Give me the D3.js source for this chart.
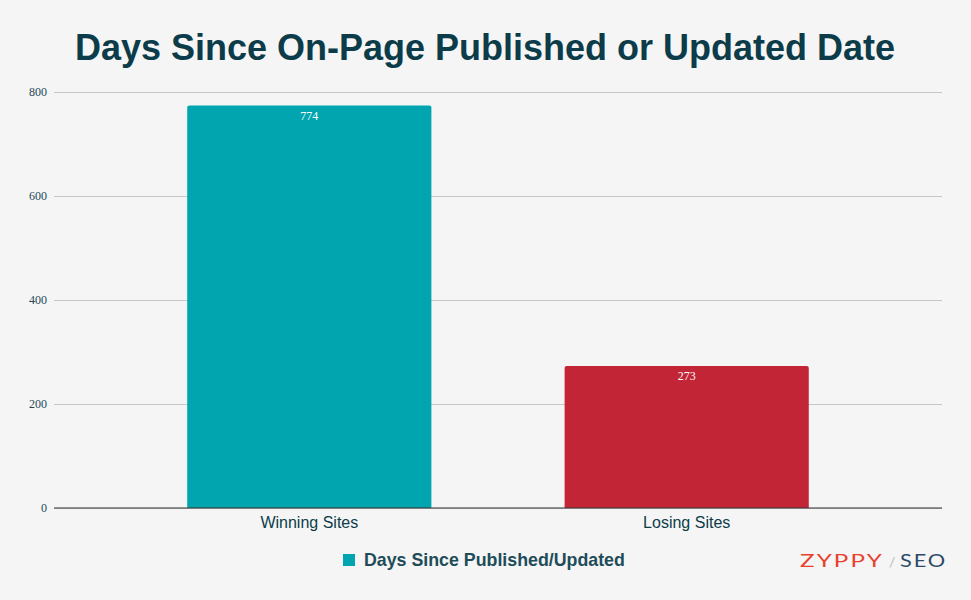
<!DOCTYPE html>
<html lang="en">
<head>
<meta charset="utf-8">
<title>Days Since On-Page Published or Updated Date</title>
<script src="https://cdn.jsdelivr.net/npm/d3@7"></script>
<style>
  html, body { margin: 0; padding: 0; background: #f5f5f5; }
  svg { display: block; }
</style>
</head>
<body>
<script>

// chart data
var categories = ["Winning Sites", "Losing Sites"];
var daysValues = [774, 273];
var barColors = ["#00a5af", "#c22535"];
var yTicks = [0, 200, 400, 600, 800];
var seriesName = "Days Since Published/Updated";

var W = 971, H = 600;
var plot = { left: 54, right: 942, top: 92, bottom: 508 };

var svg = d3.select("body").append("svg")
    .attr("width", W)
    .attr("height", H);

svg.append("rect")
    .attr("width", W)
    .attr("height", H)
    .attr("fill", "#f5f5f5");

// title
svg.append("text")
    .attr("x", 485)
    .attr("y", 60)
    .attr("text-anchor", "middle")
    .attr("font-family", "'Liberation Sans', Arial, sans-serif")
    .attr("font-weight", "bold")
    .attr("font-size", 36)
    .attr("fill", "#0c3c49")
    .text("Days Since On-Page Published or Updated Date");

var x = d3.scaleBand()
    .domain(categories)
    .range([plot.left, plot.right])
    .paddingInner(0.353)
    .paddingOuter(0.353);

var y = d3.scaleLinear()
    .domain([0, 800])
    .range([plot.bottom, plot.top]);

// gridlines + y labels
var yAxis = d3.axisLeft(y)
    .tickValues(yTicks)
    .tickSize(-(plot.right - plot.left))
    .tickPadding(7)
    .tickFormat(d3.format("d"));

var gy = svg.append("g")
    .attr("transform", "translate(" + plot.left + ",0)")
    .call(yAxis);

gy.select(".domain").remove();
gy.selectAll(".tick line")
    .attr("stroke", "#c6c6c6")
    .attr("stroke-width", 1);
gy.selectAll(".tick text")
    .attr("font-family", "'Liberation Serif', 'Times New Roman', serif")
    .attr("font-size", 12)
    .attr("fill", "#1d4a57");

// bars
svg.append("g").selectAll("path")
    .data(categories)
    .enter()
    .append("path")
    .attr("fill", function(d, i) { return barColors[i]; })
    .attr("d", function(d, i) {
        var x0 = x(d), x1 = x(d) + x.bandwidth();
        var y0 = y(daysValues[i]), y1 = y(0);
        var r = 2;
        return "M" + x0 + "," + y1 +
               "V" + (y0 + r) +
               "Q" + x0 + "," + y0 + " " + (x0 + r) + "," + y0 +
               "H" + (x1 - r) +
               "Q" + x1 + "," + y0 + " " + x1 + "," + (y0 + r) +
               "V" + y1 + "Z";
    });

// value labels
svg.append("g").selectAll("text")
    .data(categories)
    .enter()
    .append("text")
    .attr("x", function(d) { return x(d) + x.bandwidth() / 2; })
    .attr("y", function(d, i) { return y(daysValues[i]) + 14; })
    .attr("text-anchor", "middle")
    .attr("font-family", "'Liberation Serif', 'Times New Roman', serif")
    .attr("font-size", 12)
    .attr("fill", "#ffffff")
    .text(function(d, i) { return daysValues[i]; });

// x axis
var gx = svg.append("g")
    .attr("transform", "translate(0," + plot.bottom + ")")
    .call(d3.axisBottom(x).tickSize(0).tickPadding(9));

gx.select(".domain")
    .attr("d", "M" + plot.left + ",0H" + plot.right)
    .attr("stroke", "#333333")
    .attr("stroke-width", 1.2);
gx.selectAll(".tick text")
    .attr("font-family", "'Liberation Sans', Arial, sans-serif")
    .attr("font-size", 16)
    .attr("fill", "#0c3c49");

// legend
var legend = svg.append("g");
legend.append("rect")
    .attr("x", 343)
    .attr("y", 554)
    .attr("width", 12)
    .attr("height", 12)
    .attr("fill", barColors[0]);
legend.append("text")
    .attr("x", 364)
    .attr("y", 566)
    .attr("font-family", "'Liberation Sans', Arial, sans-serif")
    .attr("font-weight", "bold")
    .attr("font-size", 17.8)
    .attr("fill", "#1e4c59")
    .text(seriesName);

// logo (stretched wide letters)
var logo = svg.append("g")
    .attr("font-family", "Lato, 'Open Sans', sans-serif")
    .attr("font-size", 17);
logo.append("text")
    .attr("x", 0).attr("y", 0)
    .attr("transform", "translate(800,567) scale(1.42,1)")
    .attr("letter-spacing", 1.5)
    .attr("fill", "#e8402c")
    .text("ZYPPY");
logo.append("text")
    .attr("x", 889).attr("y", 567)
    .attr("font-size", 14)
    .attr("fill", "#b8b8b8")
    .text("/");
logo.append("text")
    .attr("x", 0).attr("y", 0)
    .attr("transform", "translate(900,567) scale(1.28,1)")
    .attr("letter-spacing", 1.5)
    .attr("fill", "#2b4a68")
    .text("SEO");

</script>
</body>
</html>
